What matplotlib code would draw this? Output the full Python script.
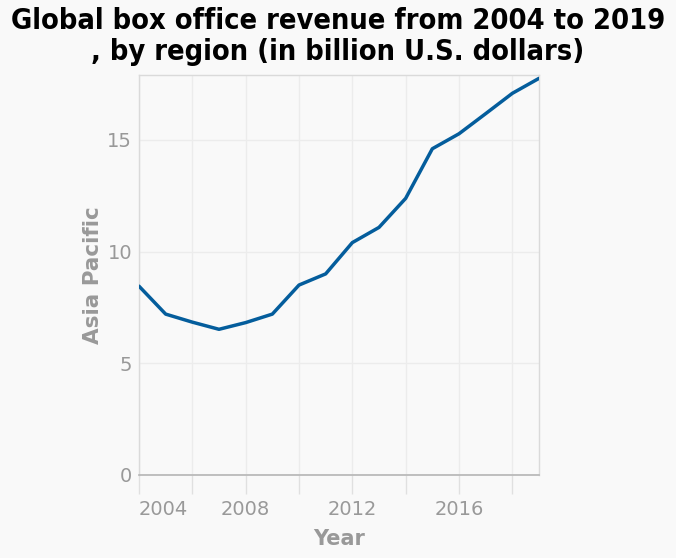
import matplotlib
matplotlib.use("Agg")
import matplotlib.pyplot as plt

years = [2004, 2005, 2006, 2007, 2008, 2009, 2010, 2011, 2012, 2013, 2014, 2015, 2016, 2017, 2018, 2019]
asia_pacific = [8.45, 7.2, 6.84, 6.52, 6.82, 7.2, 8.5, 9.0, 10.4, 11.08, 12.38, 14.6, 15.27, 16.17, 17.08, 17.75]
x_ticks = [2004, 2006, 2008, 2010, 2012, 2014, 2016, 2018]
x_labels = ["2004", "", "2008", "", "2012", "", "2016", ""]
y_ticks = [0, 5, 10, 15]

bg = "#f9f9f9"
fig = plt.figure(figsize=(6.76, 5.58), dpi=100, facecolor=bg)
ax = fig.add_axes([139/676, 1 - 475/558, 400/676, 400/558])
ax.set_facecolor(bg)

ax.plot(years, asia_pacific, color="#045d9c", linewidth=2.5, solid_capstyle="round", zorder=3)

ax.set_xlim(2004, 2019)
ax.set_ylim(0, 17.9)
ax.set_xticks(x_ticks)
ax.set_xticklabels(x_labels)
ax.set_yticks(y_ticks)

ax.grid(True, color="#ececec", linewidth=1)
for s in ["top", "right", "left"]:
    ax.spines[s].set_color("#dadada")
    ax.spines[s].set_linewidth(1)
ax.spines["bottom"].set_color("#b5b5b5")
ax.spines["bottom"].set_linewidth(1.2)

ax.tick_params(axis="x", length=14, width=1, color="#e0e0e0", labelsize=14,
               labelcolor="#999999", pad=4)
ax.tick_params(axis="y", length=0, labelsize=14, labelcolor="#999999", pad=5)
lbls = ax.get_xticklabels()
lbls[0].set_horizontalalignment("left")

ax.set_xlabel("Year", fontsize=15, fontweight="bold", color="#999999", labelpad=7)
ax.set_ylabel("Asia Pacific", fontsize=15.5, fontweight="bold", color="#999999", labelpad=3)

fig.suptitle("Global box office revenue from 2004 to 2019\n, by region (in billion U.S. dollars)",
             fontsize=20.8, fontweight="bold", fontstretch="condensed", y=0.988, linespacing=1.15)

fig.savefig("out.png", dpi=100, facecolor=bg)
